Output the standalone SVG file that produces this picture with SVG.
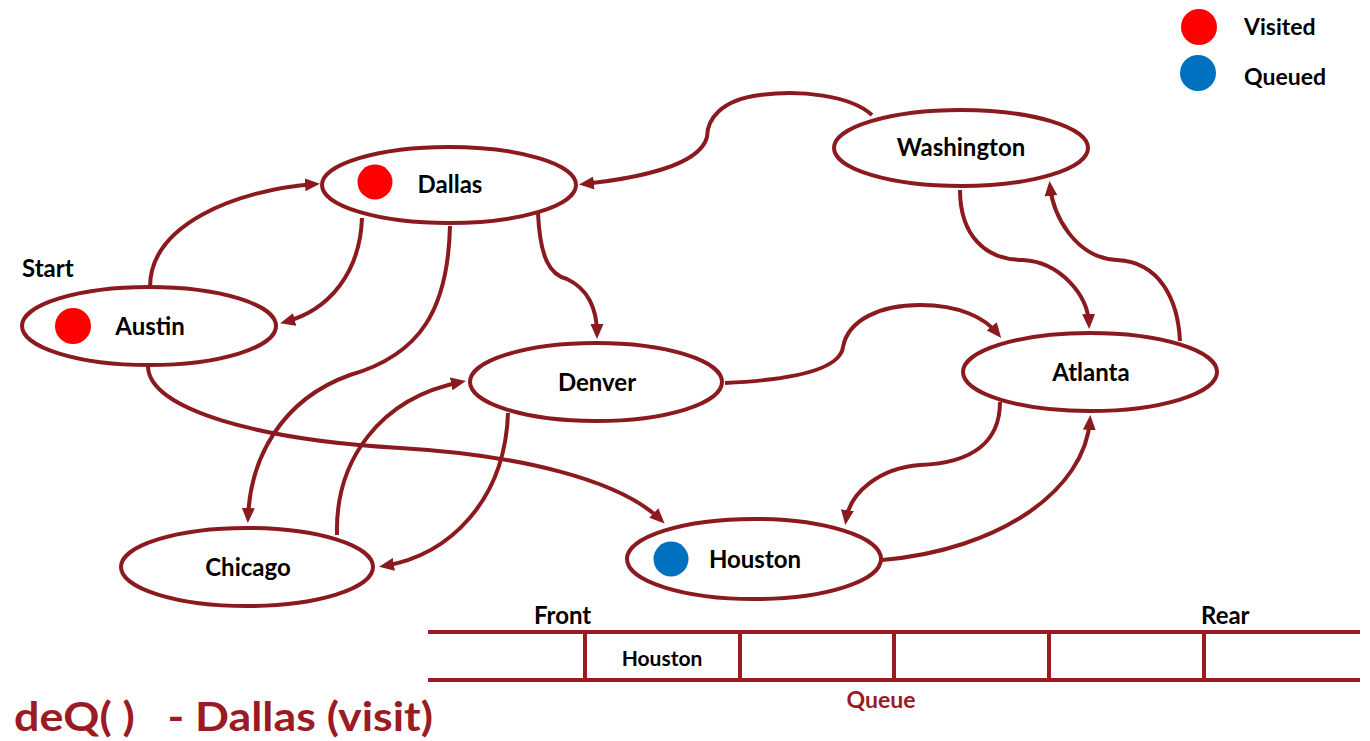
<svg xmlns="http://www.w3.org/2000/svg" width="1370" height="741" viewBox="0 0 1370 741">
<style>
.node{fill:#fff;stroke:#8B1A1E;stroke-width:4}
.lbl{font-family:Lato,"Liberation Sans",sans-serif;font-weight:700;font-size:24px;fill:#000}
.edge{fill:none;stroke:#8B1A1E;stroke-width:4}
.q{stroke:#9B1B24;stroke-width:4}
.vis{fill:#FF0000}
.que{fill:#0070C0}
</style>
<defs>
<marker id="ah" viewBox="0 0 15 13" refX="10" refY="6.5" markerWidth="15" markerHeight="13" markerUnits="userSpaceOnUse" orient="auto">
<path d="M0,0 L15,6.5 L0,13 z" fill="#8B1A1E"/>
</marker>
</defs>
<rect width="1370" height="741" fill="#fff"/>

<g id="connectors">
<path class="edge" marker-end="url(#ah)" d="M150,287 C150,225 235,190 315,184"/>
<path class="edge" marker-end="url(#ah)" d="M362,218 C360,272 330,310 285,322"/>
<path class="edge" marker-end="url(#ah)" d="M450,226 C448,310 420,355 350,375 C280,400 250,460 248,518"/>
<path class="edge" marker-end="url(#ah)" d="M337,535 C335,460 380,398 461,382"/>
<path class="edge" marker-end="url(#ah)" d="M508,413 C505,500 450,555 384,566"/>
<path class="edge" marker-end="url(#ah)" d="M148,367 C150,410 260,440 400,448 C520,455 620,480 661,520"/>
<path class="edge" marker-end="url(#ah)" d="M538,213 C540,258 550,275 567,279 C590,290 597,312 597,334"/>
<path class="edge" marker-end="url(#ah)" d="M872,115 C850,95 800,90 760,95 C720,100 707,120 707,137 C700,165 640,178 584,184"/>
<path class="edge" marker-end="url(#ah)" d="M725,383 C790,380 840,370 843,347 C848,320 880,305 920,305 C960,305 985,318 998,334"/>
<path class="edge" marker-end="url(#ah)" d="M960,190 C960,235 985,260 1023,260 C1060,262 1088,295 1089,324"/>
<path class="edge" marker-end="url(#ah)" d="M1180,341 C1178,300 1160,262 1117,260 C1075,258 1053,215 1050,186"/>
<path class="edge" marker-end="url(#ah)" d="M1000,402 C1000,440 975,463 920,465 C880,468 850,492 846,520"/>
<path class="edge" marker-end="url(#ah)" d="M882,560 C1000,550 1085,490 1090,420"/>
</g>

<g id="dallas">
<ellipse class="node" cx="449" cy="185" rx="127" ry="38"/>
<circle class="vis" cx="375" cy="182" r="17.5"/>
<text class="lbl" x="450" y="193" text-anchor="middle">Dallas</text>
</g>
<g id="austin">
<ellipse class="node" cx="149" cy="326" rx="127" ry="39"/>
<circle class="vis" cx="73" cy="326" r="18"/>
<text class="lbl" x="150" y="335" text-anchor="middle">Austin</text>
</g>
<g id="start">
<text class="lbl" x="22" y="277">Start</text>
</g>
<g id="denver">
<ellipse class="node" cx="596" cy="382" rx="126" ry="39"/>
<text class="lbl" x="597" y="391" text-anchor="middle">Denver</text>
</g>
<g id="chicago">
<ellipse class="node" cx="247" cy="567" rx="126" ry="39"/>
<text class="lbl" x="248" y="576" text-anchor="middle">Chicago</text>
</g>
<g id="houston">
<ellipse class="node" cx="754" cy="559" rx="127" ry="40"/>
<circle class="que" cx="671" cy="559" r="17.5"/>
<text class="lbl" x="755" y="568" text-anchor="middle">Houston</text>
</g>
<g id="washington">
<ellipse class="node" cx="961" cy="148" rx="127" ry="38"/>
<text class="lbl" x="961" y="156" text-anchor="middle">Washington</text>
</g>
<g id="atlanta">
<ellipse class="node" cx="1090" cy="372" rx="127" ry="39"/>
<text class="lbl" x="1091" y="381" text-anchor="middle">Atlanta</text>
</g>

<g id="legend">
<circle class="vis" cx="1199" cy="27" r="18"/>
<text class="lbl" x="1244" y="35" style="font-size:23px">Visited</text>
<circle class="que" cx="1198" cy="73" r="18"/>
<text class="lbl" x="1244" y="85" style="font-size:23px">Queued</text>
</g>

<g id="queue">
<line class="q" x1="428" y1="632" x2="1360" y2="632"/>
<line class="q" x1="428" y1="680" x2="1360" y2="680"/>
<line class="q" x1="585" y1="632" x2="585" y2="680"/>
<line class="q" x1="740" y1="632" x2="740" y2="680"/>
<line class="q" x1="894" y1="632" x2="894" y2="680"/>
<line class="q" x1="1049" y1="632" x2="1049" y2="680"/>
<line class="q" x1="1204" y1="632" x2="1204" y2="680"/>
<text class="lbl" x="534" y="624">Front</text>
<text class="lbl" x="1201" y="624">Rear</text>
<text class="lbl" x="662" y="666" text-anchor="middle" style="font-size:21px">Houston</text>
<text class="lbl" x="881" y="708" text-anchor="middle" style="font-size:23px;fill:#9B1B24">Queue</text>
</g>

<g id="title">
<text x="14" y="731" xml:space="preserve" font-family="Lato,'Liberation Sans',sans-serif" font-weight="700" font-size="40" fill="#9B1B24" textLength="419" lengthAdjust="spacingAndGlyphs">deQ( )   - Dallas (visit)</text>
</g>
</svg>
